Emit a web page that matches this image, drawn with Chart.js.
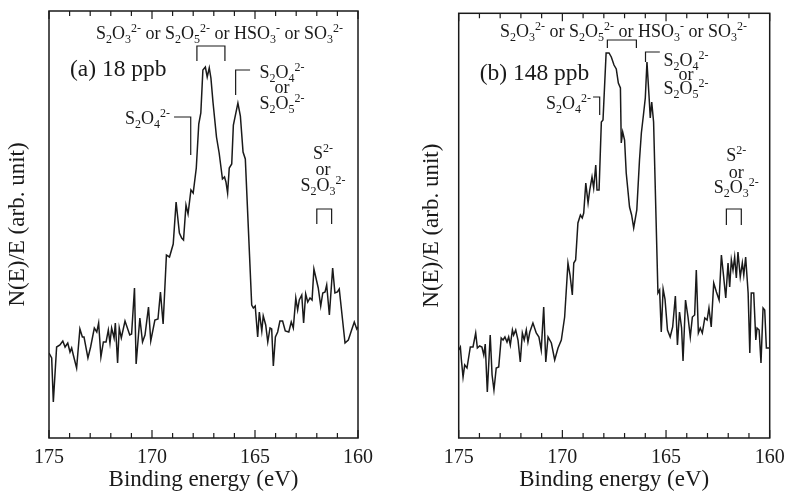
<!DOCTYPE html>
<html>
<head>
<meta charset="utf-8">
<script src="https://cdn.jsdelivr.net/npm/chart.js@4.4.1/dist/chart.umd.min.js"></script>
<style>
  html, body { margin: 0; padding: 0; background: #fff; }
  #wrap { position: relative; width: 786px; height: 491px; overflow: hidden; background: #fff; }
  canvas { position: absolute; top: 0; }
  #panelA { left: 0; }
  #panelB { left: 393px; }
</style>
</head>
<body>
<div id="wrap">
  <canvas id="panelA" width="393" height="491"></canvas>
  <canvas id="panelB" width="393" height="491"></canvas>
</div>
<script>
// --- data (binding energy in eV, intensity in arb. units) ---
const xTicks = [175, 170, 165, 160];
const minorTicks = [160, 161, 162, 163, 164, 165, 166, 167, 168, 169, 170, 171, 172, 173, 174, 175];

// (a) 18 ppb
const energyA = [
  175.00, 174.87, 174.79, 174.63, 174.47, 174.33, 174.22, 174.09, 173.98, 173.90,
  173.82, 173.66, 173.50, 173.38, 173.30, 173.11, 172.98, 172.80, 172.68, 172.59,
  172.48, 172.36, 172.23, 172.12, 172.04, 171.96, 171.84, 171.78, 171.67, 171.59,
  171.49, 171.31, 171.08, 170.99, 170.85, 170.77, 170.59, 170.46, 170.34, 170.17,
  170.06, 169.86, 169.71, 169.59, 169.46, 169.30, 169.15, 168.97, 168.83, 168.67,
  168.56, 168.47, 168.35, 168.25, 168.11, 168.00, 167.85, 167.73, 167.63, 167.53,
  167.41, 167.32, 167.22, 167.14, 167.04, 166.87, 166.74, 166.58, 166.48, 166.41,
  166.33, 166.25, 166.13, 166.05, 165.83, 165.71, 165.58, 165.47, 165.16, 165.08,
  164.99, 164.87, 164.79, 164.67, 164.60, 164.48, 164.38, 164.27, 164.19, 164.11,
  164.01, 163.90, 163.79, 163.66, 163.53, 163.36, 163.24, 163.14, 163.02, 162.93,
  162.85, 162.73, 162.64, 162.54, 162.44, 162.33, 162.23, 162.14, 162.04, 161.93,
  161.81, 161.71, 161.60, 161.52, 161.39, 161.23, 161.12, 161.00, 160.91, 160.63,
  160.47, 160.31, 160.18, 160.06, 160.00
];
const countsA = [
  85, 80, 36, 91, 93, 97, 91, 95, 86, 90,
  83, 70, 109, 101, 101, 80, 91, 110, 106, 115,
  81, 96, 96, 108, 95, 110, 100, 115, 75, 110,
  100, 117, 103, 104, 150, 74, 120, 96, 103, 131,
  97, 118, 119, 146, 114, 183, 181, 194, 236, 205,
  200, 198, 233, 224, 248, 245, 270, 314, 325, 368,
  371, 361, 370, 360, 336, 301, 285, 259, 261, 256,
  245, 270, 274, 313, 335, 322, 286, 279, 133, 130,
  132, 101, 126, 107, 122, 113, 96, 110, 109, 72,
  101, 106, 117, 117, 107, 106, 116, 110, 140, 128,
  138, 143, 115, 144, 136, 140, 138, 169, 160, 150,
  132, 145, 146, 153, 123, 170, 145, 146, 149, 95,
  98, 108, 116, 109, 111
];

// (b) 148 ppb
const energyB = [
  175.00, 174.92, 174.87, 174.79, 174.71, 174.60, 174.44, 174.31, 174.18, 174.10,
  173.99, 173.88, 173.79, 173.72, 173.62, 173.48, 173.39, 173.30, 173.19, 173.07,
  172.95, 172.86, 172.77, 172.67, 172.59, 172.51, 172.41, 172.35, 172.25, 172.14,
  172.03, 171.93, 171.84, 171.74, 171.66, 171.57, 171.42, 171.26, 171.13, 171.02,
  170.90, 170.80, 170.69, 170.53, 170.37, 170.21, 170.05, 169.89, 169.73, 169.63,
  169.52, 169.45, 169.36, 169.25, 169.13, 169.04, 168.97, 168.87, 168.76, 168.68,
  168.57, 168.49, 168.39, 168.33, 168.23, 168.12, 168.04, 167.89, 167.75, 167.64,
  167.51, 167.40, 167.30, 167.20, 167.16, 167.09, 167.00, 166.92, 166.76, 166.66,
  166.56, 166.41, 166.28, 166.19, 166.09, 166.00, 165.92, 165.82, 165.76, 165.69,
  165.60, 165.39, 165.31, 165.23, 165.14, 165.05, 164.93, 164.80, 164.68,
  164.55, 164.45, 164.35, 164.25, 164.18, 164.06, 163.94, 163.83, 163.73, 163.62,
  163.54, 163.44, 163.35, 163.25, 163.13, 163.02, 162.93, 162.82, 162.70, 162.57,
  162.44, 162.33, 162.22, 162.12, 162.01, 161.93, 161.85, 161.77, 161.69, 161.61,
  161.53, 161.42, 161.32, 161.25, 161.16, 161.04, 160.96, 160.89, 160.77, 160.67,
  160.61, 160.51, 160.42, 160.32, 160.24, 160.16, 160.00
];
const countsB = [
  88, 91, 78, 61, 73, 70, 91, 91, 105, 90,
  92, 91, 83, 94, 46, 103, 63, 48, 70, 71,
  100, 98, 101, 96, 101, 93, 108, 103, 108, 98,
  76, 105, 98, 108, 96, 106, 115, 105, 101, 88,
  131, 76, 101, 95, 78, 90, 98, 121, 175, 163,
  143, 175, 178, 215, 223, 220, 225, 255, 235, 248,
  261, 250, 273, 248, 248, 316, 318, 385, 385, 381,
  373, 369, 355, 350, 295, 306, 298, 265, 231, 223,
  210, 228, 278, 305, 323, 340, 376, 342, 320, 336,
  316, 145, 148, 106, 149, 139, 108, 101, 111,
  142, 93, 126, 110, 77, 138, 121, 101, 121, 123,
  168, 105, 110, 105, 120, 118, 130, 111, 155, 146,
  138, 183, 161, 140, 175, 151, 178, 168, 181, 160,
  186, 161, 175, 163, 181, 145, 85, 145, 145, 98,
  110, 108, 75, 130, 128, 90, 90
];

const serif = '"Liberation Serif", "Times New Roman", Times, serif';
const ink = '#1a1a1a';

// split "S_2O_3^{2-}" into runs: 0 normal, -1 subscript, 1 superscript
function parseRich(str) {
  const runs = [];
  let i = 0;
  while (i < str.length) {
    const c = str[i];
    if (c === '_' || c === '^') {
      const level = c === '_' ? -1 : 1;
      let txt;
      if (str[i + 1] === '{') {
        const end = str.indexOf('}', i);
        txt = str.slice(i + 2, end);
        i = end + 1;
      } else {
        txt = str[i + 1];
        i += 2;
      }
      runs.push({ t: txt, level });
    } else {
      if (runs.length && runs[runs.length - 1].level === 0) runs[runs.length - 1].t += c;
      else runs.push({ t: c, level: 0 });
      i++;
    }
  }
  return runs;
}

function drawRich(ctx, str, x, y, size, align) {
  const runs = parseRich(str);
  const small = Math.round(size * 0.64);
  const fontFor = (r) => (r.level === 0 ? size : small) + 'px ' + serif;
  let total = 0;
  runs.forEach(r => { ctx.font = fontFor(r); r.w = ctx.measureText(r.t).width; total += r.w; });
  let cx = align === 'center' ? x - total / 2 : align === 'right' ? x - total : x;
  const base = y + size * 0.33;
  runs.forEach(r => {
    ctx.font = fontFor(r);
    const dy = r.level === -1 ? size * 0.24 : r.level === 1 ? -size * 0.38 : 0;
    ctx.fillText(r.t, cx, base + dy);
    cx += r.w;
  });
}

// box frame and inward ticks on top and bottom
const framePlugin = {
  id: 'frame',
  afterDraw(chart) {
    const { ctx, chartArea: a } = chart;
    const x = chart.scales.x;
    ctx.save();
    ctx.strokeStyle = ink;
    ctx.lineWidth = 1.5;
    ctx.strokeRect(a.left, a.top, a.right - a.left, a.bottom - a.top);
    ctx.lineWidth = 1.2;
    minorTicks.forEach(v => {
      const px = x.getPixelForValue(v);
      const len = v % 5 === 0 ? 8 : 5;
      ctx.beginPath();
      ctx.moveTo(px, a.bottom);
      ctx.lineTo(px, a.bottom - len);
      ctx.moveTo(px, a.top);
      ctx.lineTo(px, a.top + len);
      ctx.stroke();
    });
    ctx.restore();
  }
};

// peak assignments, placed in data coordinates
const notesPlugin = {
  id: 'notes',
  afterDraw(chart, args, opts) {
    const { ctx } = chart;
    const x = chart.scales.x, y = chart.scales.y;
    ctx.save();
    ctx.fillStyle = ink;
    ctx.strokeStyle = ink;
    ctx.lineWidth = 1.2;
    (opts.items || []).forEach(n => {
      if (n.path) {
        ctx.beginPath();
        n.path.forEach((p, i) => {
          const px = x.getPixelForValue(p[0]), py = y.getPixelForValue(p[1]);
          if (i === 0) ctx.moveTo(px, py); else ctx.lineTo(px, py);
        });
        ctx.stroke();
      } else {
        drawRich(ctx, n.text, x.getPixelForValue(n.x), y.getPixelForValue(n.y), n.size || 18, n.align || 'center');
      }
    });
    ctx.restore();
  }
};

const topLabel = 'S_2O_3^{2-} or S_2O_5^{2-} or HSO_3^- or SO_3^{2-}';

const notesA = [
  { text: topLabel, x: 166.72, y: 405 },
  { path: [[167.82, 377], [167.82, 392], [166.46, 392], [166.46, 377]] },
  { text: '(a) 18 ppb', x: 173.98, y: 370, size: 23.5, align: 'left' },
  { text: 'S_2O_4^{2-}', x: 169.13, y: 320, align: 'right' },
  { path: [[168.93, 321], [168.12, 321], [168.12, 283]] },
  { text: 'S_2O_4^{2-}', x: 163.69, y: 366 },
  { text: 'or', x: 163.69, y: 351 },
  { text: 'S_2O_5^{2-}', x: 163.69, y: 335 },
  { path: [[165.24, 368], [165.94, 368], [165.94, 343]] },
  { text: 'S^{2-}', x: 161.70, y: 285 },
  { text: 'or', x: 161.70, y: 269 },
  { text: 'S_2O_3^{2-}', x: 161.70, y: 253 },
  { path: [[162.0, 214], [162.0, 229], [161.28, 229], [161.28, 214]] }
];

const notesB = [
  { text: topLabel, x: 167.05, y: 407 },
  { path: [[167.83, 390], [167.83, 398], [166.43, 398], [166.43, 390]] },
  { text: '(b) 148 ppb', x: 173.99, y: 366, size: 23.5, align: 'left' },
  { text: 'S_2O_4^{2-}', x: 168.62, y: 335, align: 'right' },
  { path: [[168.52, 341], [168.20, 341], [168.20, 323]] },
  { text: 'S_2O_4^{2-}', x: 164.04, y: 378 },
  { text: 'or', x: 164.04, y: 364 },
  { text: 'S_2O_5^{2-}', x: 164.04, y: 350 },
  { path: [[165.30, 386], [165.99, 386], [165.99, 376]] },
  { text: 'S^{2-}', x: 161.61, y: 283 },
  { text: 'or', x: 161.61, y: 266 },
  { text: 'S_2O_3^{2-}', x: 161.61, y: 251 },
  { path: [[162.09, 213], [162.09, 229], [161.37, 229], [161.37, 213]] }
];

function makePanel(id, energies, counts, yMax, geom, notes) {
  const points = energies.map((e, i) => ({ x: e, y: counts[i] }));
  return new Chart(document.getElementById(id), {
    type: 'line',
    data: {
      datasets: [{
        data: points,
        borderColor: ink,
        borderWidth: 1.5,
        pointRadius: 0,
        tension: 0,
        fill: false
      }]
    },
    options: {
      responsive: false,
      animation: false,
      layout: { padding: { top: geom.top, right: geom.right, left: 0, bottom: 0 } },
      plugins: {
        legend: { display: false },
        tooltip: { enabled: false },
        notes: { items: notes }
      },
      scales: {
        x: {
          type: 'linear',
          min: 160,
          max: 175,
          reverse: true,
          afterBuildTicks: (s) => { s.ticks = xTicks.map(v => ({ value: v })); },
          ticks: {
            font: { family: serif, size: 20, lineHeight: 1.2 },
            color: ink,
            padding: 8,
            maxRotation: 0,
            autoSkip: false
          },
          grid: { display: false, drawTicks: false },
          border: { display: false },
          title: {
            display: true,
            text: 'Binding energy (eV)',
            font: { family: serif, size: 23, lineHeight: 1 },
            color: ink,
            padding: { top: 0, bottom: 0 }
          },
          afterFit: (s) => {
            s.height = 491 - geom.bottom;
            s.paddingLeft = 0;
            s.paddingRight = 0;
          }
        },
        y: {
          min: 0,
          max: yMax,
          ticks: { display: false },
          grid: { display: false, drawTicks: false },
          border: { display: false },
          title: {
            display: true,
            text: 'N(E)/E (arb. unit)',
            font: { family: serif, size: 23, lineHeight: 1 },
            color: ink,
            padding: { top: geom.titleX - 11.5, bottom: 0 }
          },
          afterFit: (s) => { s.width = geom.left; }
        }
      }
    },
    plugins: [framePlugin, notesPlugin]
  });
}

makePanel('panelA', energyA, countsA, 427, { top: 11, right: 35, bottom: 438, left: 49, titleX: 18 }, notesA);
makePanel('panelB', energyB, countsB, 424.7, { top: 13.3, right: 16.3, bottom: 438, left: 65.7, titleX: 39 }, notesB);
</script>
</body>
</html>
